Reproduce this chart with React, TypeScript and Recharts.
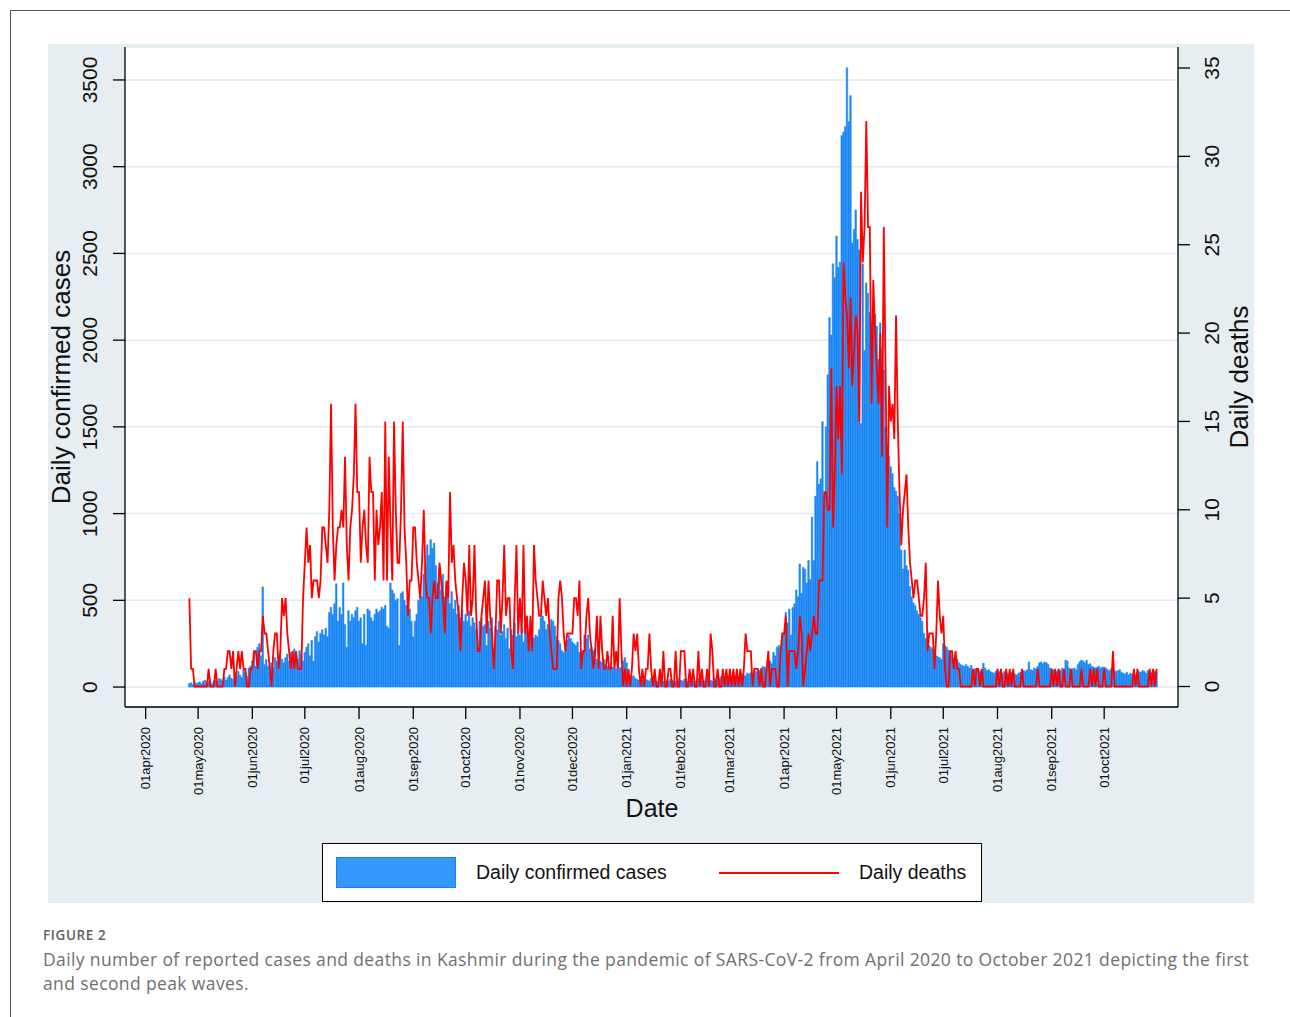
import React from 'react';
import { ComposedChart, Bar, Line, XAxis, YAxis, CartesianGrid } from 'recharts';

// ---- Daily confirmed cases, by month (first value = first day of data in that month) ----
const casesApr2020 = [20, 25, 15, 30, 20];
const casesMay2020 = [25,30,20,35,40,25,30,45,20,35,40,30,50,45,35,60,40,55,70,50,45,80,60,90,70,55,100,85,60,110,120];
const casesJun2020 = [150,200,120,230,250,180,577,130,160,120,90,140,110,170,150,130,180,160,140,170,190,150,200,170,220,180,160,210,190,150];
const casesJul2020 = [200,230,250,180,270,150,290,320,260,310,330,300,340,290,430,460,420,480,595,380,460,420,600,360,230,440,380,420,400,440,460];
const casesAug2020 = [380,400,250,420,240,450,440,400,380,420,450,430,440,460,450,470,350,340,600,560,540,500,510,240,540,550,500,470,520,450,380];
const casesSep2020 = [290,380,420,500,560,520,650,700,820,760,850,800,830,700,600,680,560,650,520,600,580,480,550,450,500,420,470,400,450,380];
const casesOct2020 = [420,380,440,350,400,370,330,230,380,400,350,360,240,380,340,400,220,350,330,380,300,320,360,280,340,220,330,300,370,290,320];
const casesNov2020 = [300,340,260,380,320,300,345,290,280,300,290,330,400,410,380,330,360,340,390,380,350,290,270,250,210,200,220,270,300,280];
const casesDec2020 = [260,250,240,260,200,190,210,300,280,300,220,230,210,220,160,150,150,140,160,130,120,110,120,115,110,105,120,110,115,150,170];
const casesJan2021 = [140,90,70,60,65,50,45,40,45,40,35,45,40,35,50,40,45,35,30,40,45,35,30,40,35,45,40,30,35,40,45];
const casesFeb2021 = [40,35,45,50,30,40,45,35,30,40,50,45,35,40,30,45,50,40,35,55,45,40,50,60,45,50,55,60];
const casesMar2021 = [55,60,50,65,70,55,60,75,70,65,80,75,85,70,80,90,85,95,110,120,115,100,140,150,135,200,180,230,240,220,300];
const casesApr2021 = [310,430,370,450,300,460,480,560,520,710,540,690,680,600,730,620,980,730,1100,1300,1170,1200,1530,1100,1500,1800,2130,2030,2440,2360];
const casesMay2021 = [2600,2420,2450,3180,3200,3230,3570,3260,3410,2560,2640,2750,2580,2520,1520,2440,1940,2330,2270,2160,2100,2190,2150,2080,1890,2100,1950,1830,1500,1400,1330];
const casesJun2021 = [1270,1230,1150,1130,1100,1000,790,680,790,700,675,580,520,485,470,440,420,400,380,310,280,255,240,230,220,200,180,175,170,160];
const casesJul2021 = [250,240,230,213,190,180,160,150,160,140,130,125,120,130,120,110,125,100,105,95,100,90,100,138,110,95,100,90,85,80,90];
const casesAug2021 = [95,90,85,80,90,85,80,75,85,80,75,70,80,85,90,95,90,100,145,100,95,110,105,120,140,145,135,145,140,130,110];
const casesSep2021 = [105,100,95,90,100,95,110,100,155,150,110,100,105,110,100,130,145,155,150,140,155,130,135,120,115,110,115,120,110,115];
const casesOct2021 = [115,110,100,95,105,100,95,90,95,100,85,80,75,85,70,80,75,85,70,80,90,85,95,90,80,95,90,85,95,90,88];

// ---- Daily deaths, by month ----
const deathsApr2020 = [5, 1, 1, 0, 0];
const deathsMay2020 = [0,0,0,0,0,0,1,0,0,0,1,0,0,0,0,1,1,2,2,1,2,0,1,2,1,2,1,1,0,0,1];
const deathsJun2020 = [1,2,2,1,2,2,4,3,3,2,1,0,2,3,3,1,2,5,4,5,3,2,1,2,1,2,1,1,1,5];
const deathsJul2020 = [7,9,7,8,5,6,6,6,5,6,9,9,8,7,10,16,9,6,8,9,9,10,9,13,8,6,9,10,12,16,11];
const deathsAug2020 = [11,7,9,10,8,7,13,11,11,6,10,8,9,11,6,15,6,13,9,6,15,10,7,7,10,15,9,7,4,6,6];
const deathsSep2020 = [9,9,7,6,5,7,10,6,5,5,3,5,6,5,5,7,6,5,3,6,5,11,7,8,6,5,4,2,5,7];
const deathsOct2020 = [6,4,8,4,5,8,4,2,2,4,5,6,3,6,4,3,1,3,6,6,3,5,8,4,5,5,2,1,5,8,3];
const deathsNov2020 = [5,3,8,3,4,2,4,2,8,6,5,4,4,6,5,4,5,3,2,1,1,1,5,6,5,3,2,3,3,3];
const deathsDec2020 = [3,5,5,4,6,1,2,2,4,5,3,2,1,2,4,1,4,2,1,1,2,1,1,4,1,2,1,5,2,0,1];
const deathsJan2021 = [0,1,0,1,3,2,3,1,0,1,0,1,1,3,1,0,1,0,0,1,0,2,0,0,1,1,0,0,2,0,0];
const deathsFeb2021 = [2,2,2,0,0,1,0,1,0,0,2,0,1,0,0,1,0,3,2,0,0,1,0,0,1,0,1,0];
const deathsMar2021 = [1,0,1,0,1,0,1,0,1,3,2,2,2,0,1,1,1,0,1,0,0,1,2,0,1,1,1,0,0,2,3];
const deathsApr2021 = [3,4,0,2,2,2,2,1,2,4,3,0,1,2,3,2,3,4,3,3,6,6,6,11,11,10,10,18,9,12];
const deathsMay2021 = [17,14,17,12,24,22,21,18,22,17,19,21,20,15,28,24,26,32,26,26,16,23,20,18,16,20,13,26,18,9,17];
const deathsJun2021 = [15,16,14,21,15,11,8,10,11,12,9,7,6,5,6,6,5,4,4,5,7,2,3,3,3,1,3,6,4,3];
const deathsJul2021 = [4,1,0,0,2,2,1,2,1,1,0,0,0,0,0,0,0,1,0,1,1,0,1,0,0,0,0,0,0,0,0];
const deathsAug2021 = [1,0,1,0,0,1,0,1,0,1,0,0,0,0,1,0,0,0,0,0,0,0,0,1,0,0,0,0,0,0,0];
const deathsSep2021 = [1,0,1,0,1,0,0,1,0,0,0,1,0,0,0,0,0,1,0,0,0,0,1,0,1,0,1,0,0,0];
const deathsOct2021 = [1,0,0,0,0,2,0,0,0,0,0,0,0,0,0,0,0,1,0,1,0,0,0,0,0,0,1,0,1,0,1];

// ---- Axis tick labels ----
const dateTickLabels = ['01apr2020','01may2020','01jun2020','01jul2020','01aug2020','01sep2020','01oct2020','01nov2020','01dec2020','01jan2021','01feb2021','01mar2021','01apr2021','01may2021','01jun2021','01jul2021','01aug2021','01sep2021','01oct2021'];
const casesTicks = [0, 500, 1000, 1500, 2000, 2500, 3000, 3500];
const deathsTicks = [0, 5, 10, 15, 20, 25, 30, 35];

const casesByMonth = [casesApr2020, casesMay2020, casesJun2020, casesJul2020, casesAug2020, casesSep2020, casesOct2020, casesNov2020, casesDec2020, casesJan2021, casesFeb2021, casesMar2021, casesApr2021, casesMay2021, casesJun2021, casesJul2021, casesAug2021, casesSep2021, casesOct2021];
const deathsByMonth = [deathsApr2020, deathsMay2020, deathsJun2020, deathsJul2020, deathsAug2020, deathsSep2020, deathsOct2020, deathsNov2020, deathsDec2020, deathsJan2021, deathsFeb2021, deathsMar2021, deathsApr2021, deathsMay2021, deathsJun2021, deathsJul2021, deathsAug2021, deathsSep2021, deathsOct2021];

const DAY_MS = 86400000;
const ORIGIN = Date.UTC(2020, 3, 1);
const FIRST_DATE = Date.UTC(2020, 3, 26);
const MONTHS: Record<string, number> = { jan: 0, feb: 1, mar: 2, apr: 3, may: 4, jun: 5, jul: 6, aug: 7, sep: 8, oct: 9, nov: 10, dec: 11 };

const startDay = Math.round((FIRST_DATE - ORIGIN) / DAY_MS);
const allCases = casesByMonth.flat();
const allDeaths = deathsByMonth.flat();
const data = allCases.map((c, i) => ({ day: startDay + i, cases: c, deaths: allDeaths[i] }));

const tickDays = dateTickLabels.map((l) =>
  Math.round((Date.UTC(Number(l.slice(5)), MONTHS[l.slice(2, 5)], 1) - ORIGIN) / DAY_MS)
);
const labelOfDay: Record<number, string> = {};
tickDays.forEach((d, i) => { labelOfDay[d] = dateTickLabels[i]; });

const FONT = '"Liberation Sans", Arial, Helvetica, sans-serif';

const LeftTick = (props: any) => {
  const { x, y, payload } = props;
  const cx = x - 21;
  return (
    <text x={cx} y={y} transform={`rotate(-90, ${cx}, ${y})`} textAnchor="middle" dominantBaseline="central"
      fontFamily={FONT} fontSize={21} fill="#111">{payload.value}</text>
  );
};

const RightTick = (props: any) => {
  const { x, y, payload } = props;
  const cx = x + 20;
  return (
    <text x={cx} y={y} transform={`rotate(-90, ${cx}, ${y})`} textAnchor="middle" dominantBaseline="central"
      fontFamily={FONT} fontSize={21} fill="#111">{payload.value}</text>
  );
};

const DateTick = (props: any) => {
  const { x, y, payload } = props;
  const ty = y + 6;
  return (
    <text x={x} y={ty} transform={`rotate(-90, ${x}, ${ty})`} textAnchor="end" dominantBaseline="central"
      fontFamily={FONT} fontSize={13} fill="#111">{labelOfDay[payload.value]}</text>
  );
};

const rotatedTitle = (cx: number, cy: number, size: number): React.CSSProperties => ({
  position: 'absolute', left: cx, top: cy, transform: 'translate(-50%, -50%) rotate(-90deg)',
  whiteSpace: 'nowrap', fontFamily: FONT, fontSize: size, lineHeight: 1, color: '#111',
});

const captionStyle: React.CSSProperties = {
  position: 'absolute', left: 43, fontFamily: '"Open Sans", sans-serif', fontSize: 17.5,
  letterSpacing: '0.38px', color: '#707070', lineHeight: '24px', whiteSpace: 'nowrap',
};

export default function App() {
  return (
    <div style={{ position: 'absolute', left: 0, top: 0, width: 1290, height: 1017, overflow: 'hidden', background: '#fff' }}>
      {/* outer frame */}
      <div style={{ position: 'absolute', left: 10, top: 10, width: 1280, height: 1007, boxSizing: 'border-box', borderLeft: '1px solid #555', borderTop: '1px solid #555' }} />
      {/* graph region */}
      <div style={{ position: 'absolute', left: 48, top: 44, width: 1206, height: 859, background: '#e6eef1' }} />

      <div style={{ position: 'absolute', left: 0, top: 0 }}>
        <ComposedChart width={1290} height={1017} data={data} margin={{ top: 47, right: 0, bottom: 190, left: 0 }}>
          <CartesianGrid yAxisId="left" vertical={false} stroke="#e1eaee" strokeWidth={1.5} fill="#ffffff" fillOpacity={1} />
          <XAxis dataKey="day" type="number" domain={[-11.8, 590.2]} allowDataOverflow ticks={tickDays} interval={0}
            height={120} tickSize={12} tick={<DateTick />}
            axisLine={{ stroke: '#000', strokeWidth: 1.3 }} tickLine={{ stroke: '#000', strokeWidth: 1.3 }} />
          <YAxis yAxisId="left" orientation="left" width={125} domain={[-115, 3690]} allowDataOverflow ticks={casesTicks} interval={0}
            tickSize={12} tick={<LeftTick />}
            axisLine={{ stroke: '#000', strokeWidth: 1.3 }} tickLine={{ stroke: '#000', strokeWidth: 1.3 }} />
          <YAxis yAxisId="right" orientation="right" width={112} domain={[-1.16, 36.19]} allowDataOverflow ticks={deathsTicks} interval={0}
            tickSize={12} tick={<RightTick />}
            axisLine={{ stroke: '#000', strokeWidth: 1.3 }} tickLine={{ stroke: '#000', strokeWidth: 1.3 }} />
          <Bar yAxisId="left" dataKey="cases" fill="#1a86f4" stroke="#1a86f4" strokeWidth={0.5} barSize={2.4} isAnimationActive={false} />
          <Line yAxisId="right" dataKey="deaths" type="linear" stroke="#ff0000" strokeWidth={1.8} dot={false} activeDot={false} isAnimationActive={false} />
        </ComposedChart>
      </div>

      {/* axis titles */}
      <div style={rotatedTitle(61, 377, 26)}>Daily confirmed cases</div>
      <div style={rotatedTitle(1239, 377, 26)}>Daily deaths</div>
      <div style={{ position: 'absolute', left: 652, top: 808, transform: 'translate(-50%, -50%)', fontFamily: FONT, fontSize: 25, lineHeight: 1, color: '#111' }}>Date</div>

      {/* legend */}
      <div style={{ position: 'absolute', left: 322, top: 843, width: 660, height: 59, boxSizing: 'border-box', border: '1.5px solid #000', background: '#fff', fontFamily: FONT, color: '#111' }}>
        <div style={{ position: 'absolute', left: 13, top: 13, width: 120, height: 31, boxSizing: 'border-box', background: '#3399ff', border: '1.5px solid #1e80e0' }} />
        <div style={{ position: 'absolute', left: 153, top: 29, transform: 'translateY(-50%)', fontSize: 19.5, lineHeight: 1, whiteSpace: 'nowrap' }}>Daily confirmed cases</div>
        <div style={{ position: 'absolute', left: 396, top: 28, width: 120, height: 2, background: '#ff0000' }} />
        <div style={{ position: 'absolute', left: 536, top: 29, transform: 'translateY(-50%)', fontSize: 19.5, lineHeight: 1, whiteSpace: 'nowrap' }}>Daily deaths</div>
      </div>

      {/* caption */}
      <div style={{ position: 'absolute', left: 43, top: 927, fontFamily: '"Open Sans", sans-serif', fontSize: 13.5, letterSpacing: '0.6px', fontWeight: 600, color: '#606060', lineHeight: 1.2 }}>FIGURE 2</div>
      <div style={{ ...captionStyle, top: 947 }}>
        Daily number of reported cases and deaths in Kashmir during the pandemic of SARS-CoV-2 from April 2020 to October 2021 depicting the first
      </div>
      <div style={{ ...captionStyle, top: 971 }}>
        and second peak waves.
      </div>
    </div>
  );
}
